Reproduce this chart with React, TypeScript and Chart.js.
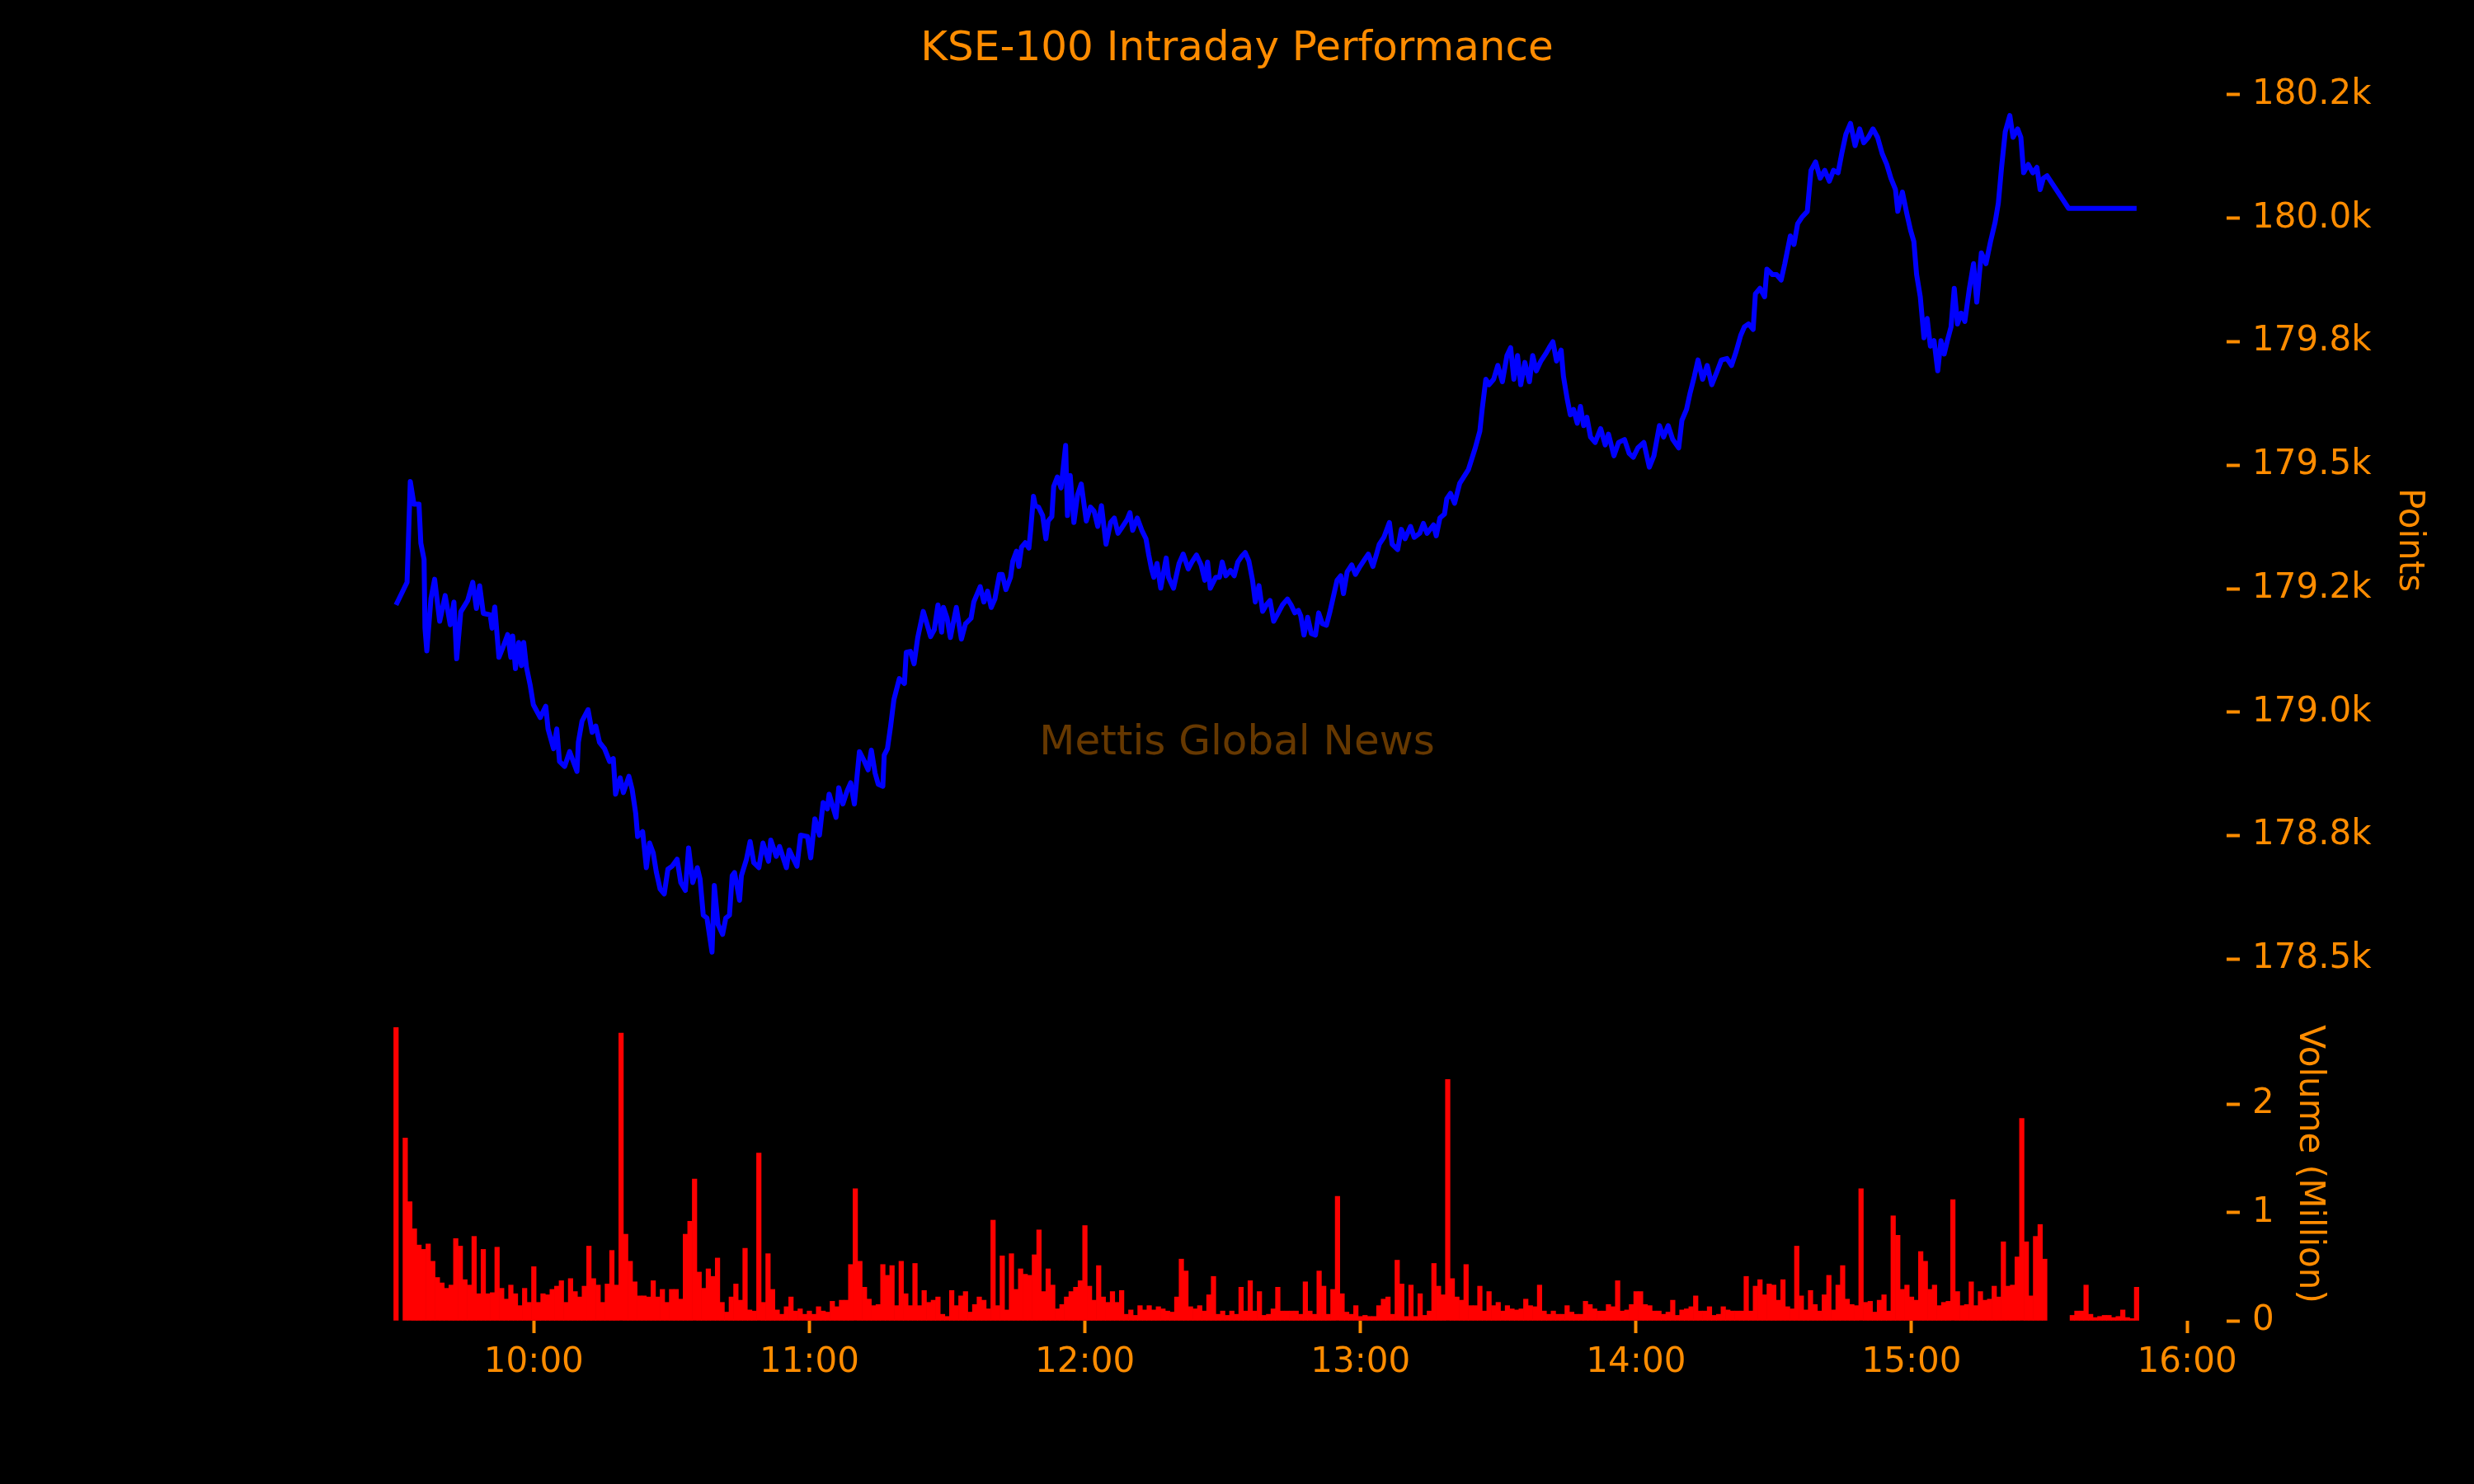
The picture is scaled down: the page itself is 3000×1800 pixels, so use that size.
import { useEffect, useRef } from "react";
import { Chart, registerables } from "chart.js";

Chart.register(...registerables);

const ORANGE = "#ff8c00";
const FONT = "'DejaVu Sans', sans-serif";

// session opens 09:30 = 570 minutes after midnight
const OPEN = 570;

// minutes after 09:30 for each index reading
const priceMinutes = [
  0, 2.4, 3.1, 3.9, 5.0, 5.4, 6.1, 6.3, 6.7, 7.6,
  8.4, 9.5, 10.7, 11.8, 12.6, 13.2, 14.1, 15.6, 16.7, 17.5,
  18.2, 19.0, 20.5, 20.9, 21.5, 22.4, 23.1, 24.3, 25.0, 25.4,
  26.0, 26.7, 27.3, 27.8, 28.4, 29.2, 29.9, 31.4, 32.6, 33.1,
  33.7, 34.3, 35.0, 35.6, 36.7, 37.8, 38.6, 39.4, 39.7, 40.5,
  41.8, 42.7, 43.5, 44.3, 45.4, 46.5, 47.3, 47.8, 48.8, 49.5,
  50.7, 51.4, 52.2, 52.6, 53.7, 54.5, 55.2, 56.0, 56.7, 57.5,
  58.4, 59.2, 60.1, 61.2, 62.0, 63.0, 63.7, 64.6, 65.6, 66.2,
  66.9, 67.7, 68.8, 69.3, 70.1, 71.1, 71.8, 72.6, 73.2, 73.7,
  74.8, 75.2, 76.3, 77.1, 77.9, 79.0, 79.9, 81.1, 81.6, 82.8,
  83.5, 85.0, 85.6, 87.3, 88.1, 89.6, 90.3, 91.2, 92.2, 93.0,
  93.9, 94.3, 95.8, 96.4, 97.3, 98.2, 99.0, 99.8, 100.9, 102.0,
  102.8, 103.5, 104.3, 105.0, 106.0, 106.3, 107.0, 107.7, 108.4, 109.6,
  110.7, 111.1, 112.0, 112.8, 113.6, 114.8, 115.6, 116.4, 117.2, 118.0,
  118.8, 119.2, 120.0, 120.7, 122.0, 123.1, 124.0, 125.2, 125.8, 127.2,
  128.0, 128.8, 129.6, 130.4, 131.4, 132.0, 132.8, 133.8, 134.3, 135.1,
  135.6, 136.2, 137.0, 137.8, 138.2, 138.8, 139.2, 139.9, 140.8, 141.5,
  142.0, 142.8, 143.2, 144.0, 144.8, 145.8, 146.2, 146.8, 147.6, 148.4,
  149.2, 150.3, 151.2, 152.0, 152.8, 153.6, 154.6, 155.6, 156.4, 157.2,
  158.0, 159.2, 159.8, 160.4, 161.4, 162.4, 163.3, 163.9, 164.5, 165.0,
  165.7, 166.5, 167.7, 168.2, 169.3, 170.5, 171.4, 172.5, 173.3, 174.3,
  175.3, 176.1, 176.7, 177.3, 178.5, 179.3, 179.9, 180.7, 181.7, 182.5,
  183.3, 184.1, 184.9, 185.7, 186.5, 187.1, 187.9, 188.7, 189.5, 190.3,
  191.1, 192.1, 193.0, 194.1, 194.9, 195.7, 196.5, 197.0, 197.7, 198.5,
  199.3, 200.2, 200.9, 201.7, 202.6, 203.3, 204.1, 204.9, 205.7, 206.3,
  207.1, 208.1, 208.9, 209.9, 210.9, 211.7, 212.7, 213.5, 214.1, 215.1,
  216.3, 216.9, 218.1, 218.9, 219.7, 220.9, 221.7, 222.9, 223.7, 224.5,
  225.9, 226.5, 227.3, 228.3, 228.8, 229.6, 230.5, 231.6, 233.5, 235.0,
  236.0, 236.5, 237.3, 238.0, 239.0, 239.9, 240.9, 241.9, 242.7, 243.4,
  244.2, 244.9, 245.8, 246.8, 247.5, 248.3, 249.3, 250.3, 251.1, 251.9,
  252.7, 253.7, 254.2, 255.0, 255.7, 256.4, 257.2, 257.9, 258.6, 259.3,
  260.1, 261.1, 262.3, 263.3, 264.0, 265.2, 266.2, 267.5, 268.5, 269.4,
  270.4, 271.7, 272.9, 273.9, 275.1, 276.0, 277.0, 278.0, 279.3, 280.0,
  281.0, 281.8, 282.7, 283.5, 284.5, 285.5, 286.5, 287.7, 288.6, 289.8,
  290.8, 291.8, 292.8, 293.6, 294.5, 295.5, 296.0, 297.0, 298.0, 298.5,
  299.7, 300.6, 301.6, 302.4, 303.6, 304.4, 305.2, 306.2, 307.3, 308.1,
  309.1, 310.1, 311.1, 312.1, 313.0, 314.0, 314.8, 315.7, 316.7, 317.7,
  318.7, 319.6, 320.6, 321.6, 322.6, 323.6, 324.6, 325.5, 326.5, 327.0,
  328.0, 329.0, 329.8, 330.5, 331.1, 331.9, 332.7, 333.4, 334.1, 334.9,
  335.7, 336.4, 337.1, 337.8, 338.6, 339.3, 340.0, 340.8, 341.6, 342.6,
  343.5, 344.2, 345.2, 346.2, 347.2, 348.2, 348.9, 349.6, 350.4, 351.4,
  352.1, 353.1, 353.8, 354.4, 355.4, 356.4, 357.3, 358.0, 358.7, 359.5,
  364.2, 369, 374, 379,
];

// KSE-100 points
const priceValues = [
  179217, 179263, 179467, 179421, 179421, 179342, 179309, 179170, 179124, 179230,
  179269, 179184, 179236, 179177, 179223, 179108, 179203, 179226, 179263, 179210,
  179256, 179200, 179197, 179170, 179213, 179111, 179127, 179157, 179111, 179154,
  179088, 179141, 179094, 179141, 179091, 179055, 179015, 178989, 179012, 178966,
  178946, 178926, 178966, 178900, 178890, 178920, 178900, 178880, 178939, 178982,
  179005, 178959, 178972, 178939, 178926, 178900, 178906, 178834, 178867, 178837,
  178870, 178844, 178794, 178748, 178758, 178685, 178735, 178715, 178675, 178642,
  178632, 178682, 178688, 178702, 178655, 178639, 178725, 178655, 178685, 178662,
  178589, 178583, 178514, 178649, 178570, 178550, 178583, 178589, 178669, 178675,
  178619, 178669, 178702, 178738, 178695, 178685, 178735, 178698, 178741, 178708,
  178728, 178685, 178721, 178688, 178751, 178748, 178705, 178784, 178751, 178817,
  178804, 178834, 178787, 178847, 178814, 178840, 178857, 178814, 178920, 178900,
  178883, 178923, 178877, 178854, 178850, 178913, 178926, 178972, 179025, 179068,
  179058, 179121, 179123, 179098, 179151, 179204, 179179, 179153, 179167, 179217,
  179162, 179212, 179190, 179151, 179212, 179148, 179179, 179190, 179223, 179254,
  179223, 179245, 179212, 179229, 179279, 179279, 179248, 179273, 179306, 179326,
  179295, 179334, 179343, 179332, 179370, 179437, 179418, 179415, 179398, 179351,
  179387, 179396, 179457, 179476, 179454, 179540, 179398, 179479, 179384, 179440,
  179462, 179387, 179415, 179407, 179376, 179418, 179340, 179384, 179393, 179362,
  179373, 179390, 179404, 179368, 179393, 179368, 179351, 179318, 179290, 179273,
  179301, 179251, 179312, 179273, 179251, 179301, 179320, 179290, 179304, 179318,
  179298, 179267, 179304, 179251, 179273, 179273, 179304, 179276, 179287, 179276,
  179304, 179315, 179323, 179306, 179267, 179223, 179256, 179204, 179217, 179226,
  179184, 179201, 179217, 179229, 179217, 179201, 179206, 179195, 179156, 179192,
  179159, 179156, 179201, 179179, 179176, 179201, 179234, 179267, 179276, 179240,
  179284, 179298, 179279, 179295, 179309, 179320, 179295, 179320, 179340, 179354,
  179384, 179340, 179329, 179370, 179351, 179376, 179354, 179362, 179382, 179362,
  179379, 179357, 179393, 179401, 179432, 179443, 179423, 179463, 179491, 179535,
  179569, 179613, 179674, 179663, 179674, 179702, 179669, 179722, 179738, 179674,
  179722, 179663, 179708, 179669, 179722, 179691, 179711, 179725, 179738, 179750,
  179711, 179733, 179680, 179635, 179602, 179613, 179585, 179619, 179580, 179597,
  179557, 179546, 179574, 179541, 179563, 179519, 179546, 179552, 179524, 179516,
  179535, 179546, 179496, 179519, 179580, 179557, 179580, 179552, 179535, 179591,
  179613, 179647, 179680, 179713, 179674, 179702, 179663, 179691, 179713, 179716,
  179702, 179730, 179763, 179780, 179786, 179775, 179847, 179858, 179841, 179897,
  179886, 179886, 179875, 179908, 179964, 179947, 179989, 180003, 180014, 180097,
  180114, 180081, 180097, 180075, 180097, 180092, 180131, 180170, 180192, 180147,
  180181, 180153, 180164, 180181, 180164, 180131, 180109, 180081, 180058, 180014,
  180053, 180008, 179975, 179953, 179886, 179841, 179758, 179797, 179741, 179752,
  179691, 179752, 179725, 179752, 179780, 179858, 179786, 179808, 179791, 179858,
  179908, 179830, 179930, 179908, 179953, 179992, 180031, 180103, 180175, 180208,
  180164, 180181, 180164, 180092, 180109, 180092, 180103, 180058, 180081, 180086,
  180020, 180020, 180020, 180020,
];

// traded volume in millions, one bar per minute from 09:30 (null = no trades)
const volumeMillions = [
  2.71, null, 1.69, 1.1, 0.85, 0.7, 0.66, 0.71, 0.55, 0.4,
  0.35, 0.3, 0.33, 0.76, 0.69, 0.38, 0.33, 0.78, 0.25, 0.66,
  0.25, 0.26, 0.68, 0.3, 0.2, 0.33, 0.25, 0.14, 0.3, 0.17,
  0.5, 0.17, 0.25, 0.24, 0.29, 0.32, 0.37, 0.17, 0.39, 0.27,
  0.22, 0.32, 0.69, 0.39, 0.33, 0.17, 0.34, 0.65, 0.33, 2.66,
  0.8, 0.55, 0.36, 0.23, 0.23, 0.22, 0.37, 0.22, 0.29, 0.17,
  0.29, 0.29, 0.2, 0.8, 0.92, 1.31, 0.45, 0.3, 0.48, 0.41,
  0.58, 0.17, 0.08, 0.22, 0.34, 0.19, 0.67, 0.1, 0.09, 1.55,
  0.17, 0.62, 0.29, 0.1, 0.06, 0.13, 0.22, 0.09, 0.11, 0.06,
  0.09, 0.06, 0.13, 0.09, 0.08, 0.18, 0.13, 0.19, 0.19, 0.52,
  1.22, 0.55, 0.31, 0.2, 0.14, 0.15, 0.52, 0.42, 0.51, 0.14,
  0.55, 0.25, 0.14, 0.53, 0.14, 0.28, 0.17, 0.19, 0.22, 0.06,
  0.04, 0.28, 0.14, 0.23, 0.27, 0.08, 0.15, 0.22, 0.19, 0.11,
  0.93, 0.14, 0.6, 0.1, 0.62, 0.29, 0.48, 0.43, 0.42, 0.61,
  0.84, 0.27, 0.48, 0.33, 0.11, 0.15, 0.22, 0.27, 0.31, 0.37,
  0.88, 0.32, 0.19, 0.51, 0.22, 0.17, 0.27, 0.17, 0.28, 0.06,
  0.1, 0.05, 0.14, 0.1, 0.14, 0.1, 0.13, 0.11, 0.09, 0.08,
  0.22, 0.57, 0.46, 0.13, 0.11, 0.14, 0.09, 0.24, 0.41, 0.06,
  0.09, 0.05, 0.09, 0.06, 0.31, 0.09, 0.37, 0.09, 0.27, 0.05,
  0.06, 0.11, 0.31, 0.09, 0.09, 0.09, 0.09, 0.06, 0.36, 0.09,
  0.06, 0.46, 0.32, 0.06, 0.29, 1.15, 0.25, 0.08, 0.06, 0.14,
  0.04, 0.05, 0.04, 0.04, 0.14, 0.2, 0.22, 0.06, 0.56, 0.34,
  0.04, 0.33, 0.04, 0.25, 0.05, 0.09, 0.53, 0.32, 0.24, 2.23,
  0.39, 0.22, 0.19, 0.52, 0.14, 0.14, 0.32, 0.09, 0.27, 0.14,
  0.17, 0.09, 0.14, 0.11, 0.1, 0.11, 0.2, 0.14, 0.13, 0.33,
  0.09, 0.06, 0.09, 0.06, 0.06, 0.14, 0.08, 0.06, 0.06, 0.18,
  0.15, 0.11, 0.09, 0.09, 0.15, 0.13, 0.37, 0.09, 0.1, 0.15,
  0.27, 0.27, 0.15, 0.14, 0.09, 0.09, 0.06, 0.08, 0.19, 0.05,
  0.1, 0.11, 0.13, 0.23, 0.09, 0.09, 0.13, 0.05, 0.06, 0.13,
  0.1, 0.09, 0.09, 0.09, 0.41, 0.09, 0.32, 0.38, 0.24, 0.34,
  0.33, 0.19, 0.38, 0.13, 0.11, 0.69, 0.23, 0.1, 0.28, 0.15,
  0.09, 0.24, 0.42, 0.1, 0.33, 0.51, 0.2, 0.15, 0.14, 1.22,
  0.17, 0.18, 0.08, 0.19, 0.24, 0.09, 0.97, 0.79, 0.29, 0.33,
  0.22, 0.19, 0.64, 0.55, 0.29, 0.33, 0.14, 0.17, 0.18, 1.12,
  0.27, 0.14, 0.15, 0.36, 0.14, 0.27, 0.19, 0.2, 0.32, 0.22,
  0.73, 0.32, 0.33, 0.59, 1.87, 0.73, 0.23, 0.78, 0.89, 0.57,
  null, null, null, null, null, 0.05, 0.09, 0.09, 0.33, 0.06,
  0.03, 0.04, 0.05, 0.05, 0.03, 0.04, 0.1, 0.03, 0.02, 0.31,
];

// x ticks, minutes after midnight
const hourTicks = [600, 660, 720, 780, 840, 900, 960];
const hourLabels = ["10:00", "11:00", "12:00", "13:00", "14:00", "15:00", "16:00"];

const priceTicks = [178500, 178750, 179000, 179250, 179500, 179750, 180000, 180250];
const priceTickLabels = ["178.5k", "178.8k", "179.0k", "179.2k", "179.5k", "179.8k", "180.0k", "180.2k"];

const volumeTicks = [0, 1, 2];

const figureText = {
  id: "figureText",
  afterDraw(chart: Chart) {
    const { ctx } = chart;
    ctx.save();
    ctx.textAlign = "center";
    ctx.textBaseline = "alphabetic";
    ctx.font = `50px ${FONT}`;
    ctx.fillStyle = "rgba(255, 140, 0, 0.4)";
    ctx.fillText("Mettis Global News", 1500, 915);
    ctx.fillStyle = ORANGE;
    ctx.fillText("KSE-100 Intraday Performance", 1500, 73);
    ctx.restore();
  },
};

const tickFont = { family: FONT, size: 42 };

export default function App() {
  const canvasRef = useRef<HTMLCanvasElement>(null);

  useEffect(() => {
    if (!canvasRef.current) return;

    const priceData = priceMinutes.map((m, i) => ({ x: OPEN + m, y: priceValues[i] }));
    const volumeData = volumeMillions.map((v, i) => ({ x: OPEN + i, y: v }));

    const chart = new Chart(canvasRef.current, {
      data: {
        datasets: [
          {
            type: "line",
            data: priceData,
            yAxisID: "price",
            borderColor: "#0000ff",
            borderWidth: 6,
            borderJoinStyle: "round",
            pointRadius: 0,
            tension: 0,
          },
          {
            type: "bar",
            data: volumeData as any,
            yAxisID: "volume",
            backgroundColor: "#ff0000",
            borderWidth: 0,
            barPercentage: 1,
            categoryPercentage: 1,
          },
        ],
      },
      options: {
        animation: false,
        responsive: true,
        maintainAspectRatio: false,
        layout: { padding: { left: 375, top: 88, right: 0, bottom: 0 } },
        plugins: {
          legend: { display: false },
          tooltip: { enabled: false },
          title: { display: false },
        },
        scales: {
          x: {
            type: "linear",
            min: 551.1,
            max: 968.6,
            offset: false,
            afterBuildTicks: (axis: any) => {
              axis.ticks = hourTicks.map((value) => ({ value }));
            },
            afterFit: (axis: any) => {
              axis.height = 198;
            },
            ticks: {
              color: ORANGE,
              font: tickFont,
              padding: 11,
              autoSkip: false,
              maxRotation: 0,
              callback: (_v: any, i: number) => hourLabels[i],
            },
            grid: {
              offset: false,
              drawOnChartArea: false,
              tickLength: 15,
              tickWidth: 4,
              tickColor: ORANGE,
            },
            border: { display: false },
          },
          price: {
            type: "linear",
            position: "right",
            stack: "panels",
            stackWeight: 1134,
            min: 178402,
            max: 180295,
            afterBuildTicks: (axis: any) => {
              axis.ticks = priceTicks.map((value) => ({ value }));
            },
            afterFit: (axis: any) => {
              axis.width = 300;
            },
            ticks: {
              color: ORANGE,
              font: tickFont,
              padding: 15,
              autoSkip: false,
              callback: (_v: any, i: number) => priceTickLabels[i],
            },
            grid: {
              drawOnChartArea: false,
              tickLength: 16,
              tickWidth: 4,
              tickColor: ORANGE,
            },
            border: { display: false },
            title: {
              display: true,
              text: "Points",
              color: ORANGE,
              font: tickFont,
              padding: { top: 54, bottom: 0 },
            },
          },
          volume: {
            type: "linear",
            position: "right",
            stack: "panels",
            stackWeight: 380,
            min: 0,
            max: 2.896,
            afterBuildTicks: (axis: any) => {
              axis.ticks = volumeTicks.map((value) => ({ value }));
            },
            afterFit: (axis: any) => {
              axis.width = 300;
            },
            ticks: {
              color: ORANGE,
              font: tickFont,
              padding: 15,
              autoSkip: false,
              callback: (v: any) => String(v),
            },
            grid: {
              drawOnChartArea: false,
              tickLength: 16,
              tickWidth: 4,
              tickColor: ORANGE,
            },
            border: { display: false },
            title: {
              display: true,
              text: "Volume (Million)",
              color: ORANGE,
              font: tickFont,
              padding: { top: 175, bottom: 0 },
            },
          },
        },
      } as any,
      plugins: [figureText],
    });

    return () => chart.destroy();
  }, []);

  return (
    <div
      style={{
        position: "fixed",
        left: 0,
        top: 0,
        width: 3000,
        height: 1800,
        background: "#000",
      }}
    >
      <canvas ref={canvasRef} role="img" aria-label="KSE-100 intraday performance" />
    </div>
  );
}
